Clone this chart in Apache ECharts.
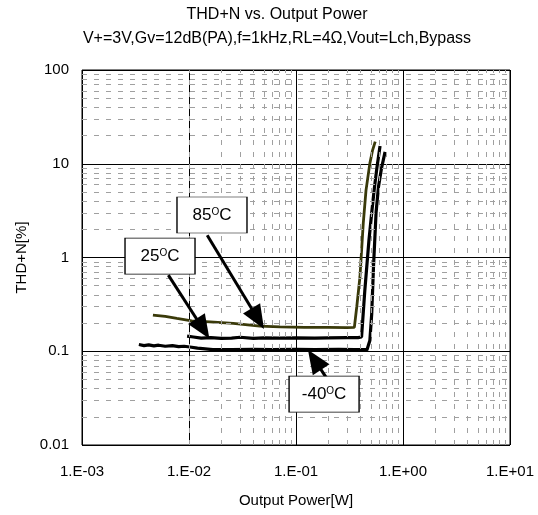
<!DOCTYPE html>
<html><head><meta charset="utf-8">
<script src="https://cdn.jsdelivr.net/npm/echarts@6/dist/echarts.min.js"></script>
<style>html,body{margin:0;padding:0;background:#fff}#c{width:538px;height:515px}</style>
</head><body><div id="c"></div>
<script>
// ---- data ----
const xTickLabels = ['1.E-03','1.E-02','1.E-01','1.E+00','1.E+01'];
const yTickLabels = ['0.01','0.1','1','10','100'];

const power85 = [0.0046,0.0060,0.0077,0.0106,0.0157,0.0259,0.046,0.071,0.12,0.2,0.30,0.351,0.37,0.396,0.425,0.451,0.49,0.52,0.55];
const thd85   = [0.243,0.235,0.224,0.211,0.206,0.198,0.185,0.182,0.180,0.180,0.179,0.180,0.30,0.62,2.3,5.2,10.1,14,17.2];

const power25 = [0.0096,0.011,0.013,0.016,0.02,0.025,0.03,0.04,0.05,0.07,0.1,0.15,0.2,0.3,0.38,0.41,0.44,0.48,0.51,0.54,0.57,0.61];
const thd25   = [0.145,0.142,0.138,0.140,0.137,0.138,0.141,0.137,0.139,0.138,0.139,0.138,0.139,0.140,0.140,0.142,0.45,1.5,3.0,5.5,9.0,15.5];

const powerM40 = [0.0034,0.0038,0.0042,0.0047,0.0052,0.006,0.007,0.008,0.009,0.0102,0.012,0.0167,0.025,0.04,0.06,0.1,0.15,0.25,0.35,0.44,0.46,0.47,0.49,0.51,0.53,0.56,0.59,0.63,0.68];
const thdM40   = [0.118,0.115,0.117,0.114,0.116,0.113,0.115,0.112,0.113,0.111,0.108,0.104,0.104,0.105,0.104,0.105,0.104,0.105,0.104,0.104,0.103,0.100,0.13,0.25,0.8,3.0,5.7,9.0,13.4];

const noteTexts = ['85','25','-40'];
const noteAt    = [[0.0164,2.84],[0.00536,1.035],[0.183,0.0348]];
const arrowFrom = [[0.0148,1.73],[0.00641,0.649],[0.194,0.0513]];
const arrowTo   = [[0.0489,0.182],[0.0151,0.1425],[0.133,0.0986]];

// ---- build ----
const FONT = 'Liberation Sans, Arial, sans-serif';
const HEAD = [20, 24];
const zip = (a,b) => a.map((v,i)=>[v,b[i]]);
const minorX = [], minorY = [];
for (let k=-3;k<=0;k++) for (let m=2;m<=9;m++) minorX.push(m*Math.pow(10,k));
for (let k=-2;k<=1;k++) for (let m=2;m<=9;m++) minorY.push(m*Math.pow(10,k));
const decIdx = (v, base) => Math.round(Math.log10(v)) - base;

const chart = echarts.init(document.getElementById('c'), null, {renderer:'canvas'});
const arrowSeries = (ends) => ({id:'notes',type:'line',data:[],z:5,silent:true,
     markLine:{silent:true,symbol:['none','triangle'],symbolSize:HEAD,label:{show:false},
       lineStyle:{type:'solid',color:'#000',width:3},emphasis:{disabled:true},
       itemStyle:{color:'#000'},
       data:arrowFrom.map((f,i)=>[{coord:f},{coord:ends[i]}])},
     markPoint:{silent:true,symbol:'rect',symbolSize:[70,36],
       itemStyle:{color:'#fff',borderColor:'#000',borderWidth:1},
       label:{show:true,position:'inside',color:'#000',
         formatter:p=>'{n|'+p.name+'}{s|O}{n|C}',
         rich:{n:{fontSize:17,lineHeight:20,color:'#000',fontFamily:FONT},
               s:{fontSize:10,lineHeight:20,verticalAlign:'top',color:'#000',fontFamily:FONT,padding:[2,0,0,0]}}},
       emphasis:{disabled:true},
       data:noteTexts.map((t,i)=>({name:t,coord:noteAt[i]}))}});

chart.setOption({
  animation:false,
  backgroundColor:'#fff',
  title:[
    {text:'THD+N vs. Output Power', left:277, top:7, textAlign:'center', padding:0,
     textStyle:{fontSize:16,fontWeight:'normal',color:'#000',fontFamily:FONT}},
    {text:'V+=3V,Gv=12dB(PA),f=1kHz,RL=4Ω,Vout=Lch,Bypass', left:277, top:31, textAlign:'center', padding:0,
     textStyle:{fontSize:16,fontWeight:'normal',color:'#000',fontFamily:FONT}}
  ],
  grid:{left:82,right:28,top:70,bottom:70,show:true,borderColor:'#000',borderWidth:1,backgroundColor:'#fff'},
  xAxis:{type:'log',logBase:10,min:0.001,max:10,
    name:'Output Power[W]',nameLocation:'middle',nameGap:48,
    nameTextStyle:{fontSize:15,color:'#000',fontFamily:FONT},
    axisLine:{show:false},axisTick:{show:false},
    axisLabel:{margin:19,fontSize:15,color:'#000',fontFamily:FONT,
      formatter:v=>xTickLabels[decIdx(v,-3)]},
    splitLine:{show:true,lineStyle:{color:'#000',width:1}}},
  yAxis:{type:'log',logBase:10,min:0.01,max:100,
    name:'THD+N[%]',nameLocation:'middle',nameGap:51,nameRotate:90,
    nameTextStyle:{fontSize:15,color:'#000',fontFamily:FONT},
    axisLine:{show:false},axisTick:{show:false},
    axisLabel:{margin:13,fontSize:15,color:'#000',fontFamily:FONT,
      formatter:v=>yTickLabels[decIdx(v,-2)]},
    splitLine:{show:true,lineStyle:{color:'#000',width:1}}},
  series:[
    {type:'line',data:[],z:1,silent:true,
     markLine:{silent:true,symbol:'none',label:{show:false},
       lineStyle:{type:[5,7],color:'#a0a0a0',width:1},
       emphasis:{disabled:true},
       data:[...minorX.map(v=>({xAxis:v})),...minorY.map(v=>({yAxis:v}))]}},
    {name:'85',type:'line',data:zip(power85,thd85),showSymbol:false,symbol:'none',z:3,
     lineStyle:{color:'#3a3a0a',width:2.8}},
    {name:'25',type:'line',data:zip(power25,thd25),showSymbol:false,symbol:'none',z:3,
     lineStyle:{color:'#000',width:3.2}},
    {name:'-40',type:'line',data:zip(powerM40,thdM40),showSymbol:false,symbol:'none',z:3,
     lineStyle:{color:'#000',width:3.2}},
    arrowSeries(arrowTo)
  ]
});

// pull each arrow end back so the triangle's tip lands near the target point
const ends = arrowTo.map((t,i)=>{
  const p0 = chart.convertToPixel({gridIndex:0}, arrowFrom[i]);
  const p1 = chart.convertToPixel({gridIndex:0}, t);
  const dx = p1[0]-p0[0], dy = p1[1]-p0[1], L = Math.hypot(dx,dy);
  const s = HEAD[1]*0.4;
  return chart.convertFromPixel({gridIndex:0}, [p1[0]-dx/L*s, p1[1]-dy/L*s]);
});
chart.setOption({series:[{},{},{},{},arrowSeries(ends)]});
</script></body></html>
